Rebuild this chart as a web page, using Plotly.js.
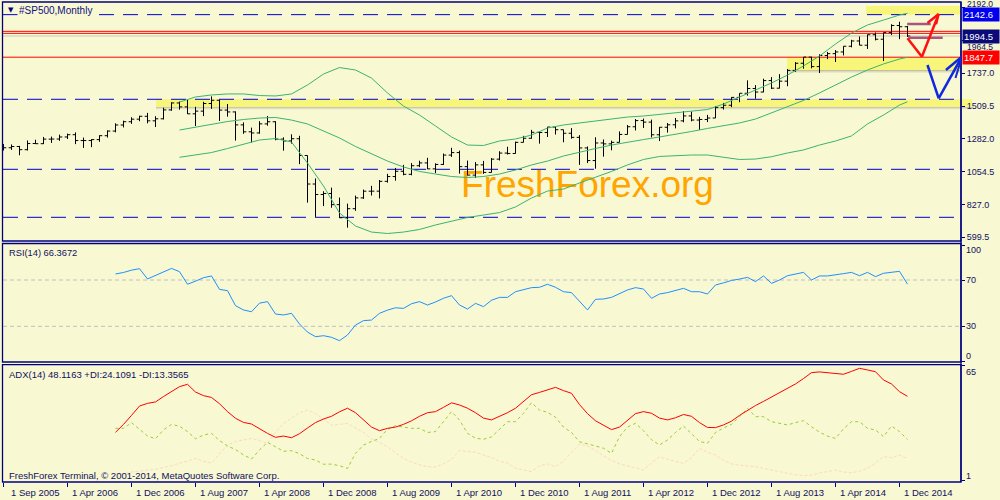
<!DOCTYPE html>
<html><head><meta charset="utf-8">
<script src="https://cdn.plot.ly/plotly-3.0.1.min.js"></script>
<style>html,body{margin:0;padding:0;background:#F8F8D3;}#chart{width:1000px;height:500px;}</style>
</head><body><div id="chart"></div>
<script>
// Monthly bars, index 0 = Aug 2005 ... 113 = Jan 2015
const opens = [1234.2,1220.3,1228.8,1207.0,1249.5,1248.3,1280.1,1280.7,1294.9,1310.6,
1270.1,1270.2,1276.7,1303.8,1335.9,1377.9,1400.6,1418.3,1438.2,1406.8,
1420.9,1482.4,1530.6,1503.4,1455.3,1474.0,1526.8,1549.4,1481.1,1468.4,
1378.6,1330.6,1322.7,1385.6,1400.4,1280.0,1267.4,1282.8,1166.4,968.8,
896.2,903.3,825.9,735.1,797.9,872.8,919.1,919.3,987.5,1020.6,
1057.1,1036.2,1095.6,1115.1,1073.9,1104.5,1169.4,1186.7,1089.4,1030.7,
1101.6,1049.3,1141.2,1183.3,1180.6,1257.6,1286.1,1327.2,1325.8,1363.6,
1345.2,1320.6,1292.3,1218.9,1131.4,1253.3,1247.0,1257.6,1312.4,1365.7,
1408.5,1397.9,1310.3,1362.2,1379.3,1406.6,1440.7,1412.2,1416.2,1426.2,
1498.1,1514.7,1569.2,1597.6,1630.7,1606.3,1685.7,1633.0,1681.6,1756.5,
1805.8,1848.4,1782.6,1859.5,1872.3,1884.0,1923.6,1960.2,1930.7,2003.4,
1972.3,2018.1,2067.6,2058.9];
const highs = [1245.9,1243.1,1233.3,1270.6,1275.8,1294.9,1297.6,1310.9,1318.2,1326.7,
1290.7,1280.4,1306.7,1340.3,1389.5,1407.9,1431.8,1441.6,1461.6,1438.9,
1498.0,1535.6,1540.6,1555.9,1503.9,1538.7,1576.1,1552.8,1523.6,1471.8,
1396.0,1359.7,1404.1,1440.2,1404.1,1292.2,1313.2,1303.0,1167.0,1007.5,
918.9,943.9,875.0,833.0,888.7,930.2,956.2,996.7,1039.5,1080.2,
1101.4,1113.7,1130.4,1150.5,1112.4,1180.2,1219.8,1200.0,1131.2,1121.0,
1129.2,1148.7,1196.1,1227.1,1262.6,1302.7,1344.1,1332.3,1364.6,1370.6,
1345.2,1356.5,1307.4,1229.3,1292.7,1277.6,1269.4,1333.5,1378.0,1419.2,
1422.4,1415.3,1363.5,1391.7,1426.7,1474.5,1471.0,1434.3,1448.0,1509.9,
1530.9,1570.3,1597.6,1687.2,1654.2,1698.8,1709.7,1729.9,1765.6,1813.6,
1849.4,1850.8,1867.9,1884.0,1897.3,1924.0,1968.2,1991.4,2005.0,2019.3,
2018.2,2075.8,2093.6,2064.4];
const lows = [1201.1,1205.4,1168.2,1201.1,1246.6,1245.7,1253.6,1268.4,1280.7,1245.3,
1219.3,1224.5,1261.3,1290.9,1327.1,1361.0,1385.9,1404.0,1389.4,1364.0,
1416.4,1476.7,1484.2,1454.3,1370.6,1439.3,1489.6,1406.1,1435.7,1270.1,
1316.8,1257.0,1318.0,1373.1,1272.0,1200.4,1248.7,1106.4,839.8,741.0,
815.7,804.2,734.5,666.8,783.3,866.1,888.9,869.3,978.5,992.0,
1029.4,1029.4,1085.9,1071.6,1044.5,1101.4,1157.0,1040.8,1028.3,1010.9,
1039.7,1048.1,1131.9,1173.0,1179.6,1257.6,1282.9,1249.0,1294.7,1311.8,
1258.1,1282.9,1101.5,1114.2,1074.8,1158.7,1202.4,1257.6,1312.4,1340.0,
1357.4,1292.0,1266.7,1325.4,1354.7,1396.6,1403.3,1343.4,1398.1,1426.2,
1485.0,1501.5,1536.0,1581.3,1560.3,1604.6,1627.5,1631.0,1646.5,1746.2,
1768.0,1770.5,1737.9,1834.4,1814.4,1859.8,1916.0,1930.7,1904.8,1964.0,
1820.7,2001.0,1972.6,1988.1];
const closes = [1220.3,1228.8,1207.0,1249.5,1248.3,1280.1,1280.7,1294.9,1310.6,1270.1,
1270.2,1276.7,1303.8,1335.9,1377.9,1400.6,1418.3,1438.2,1406.8,1420.9,
1482.4,1530.6,1503.4,1455.3,1474.0,1526.8,1549.4,1481.1,1468.4,1378.6,
1330.6,1322.7,1385.6,1400.4,1280.0,1267.4,1282.8,1166.4,968.8,896.2,
903.3,825.9,735.1,797.9,872.8,919.1,919.3,987.5,1020.6,1057.1,
1036.2,1095.6,1115.1,1073.9,1104.5,1169.4,1186.7,1089.4,1030.7,1101.6,
1049.3,1141.2,1183.3,1180.6,1257.6,1286.1,1327.2,1325.8,1363.6,1345.2,
1320.6,1292.3,1218.9,1131.4,1253.3,1247.0,1257.6,1312.4,1365.7,1408.5,
1397.9,1310.3,1362.2,1379.3,1406.6,1440.7,1412.2,1416.2,1426.2,1498.1,
1514.7,1569.2,1597.6,1630.7,1606.3,1685.7,1633.0,1681.6,1756.5,1805.8,
1848.4,1782.6,1859.5,1872.3,1884.0,1923.6,1960.2,1930.7,2003.4,1972.3,
2018.1,2067.6,2058.9,1994.5];

// Bollinger Bands (20)
const bbIdx = [22,24,26,28,30,32,34,36,38,40,42,44,46,48,50,52,54,56,58,60,62,64,66,68,70,72,74,76,78,80,82,84,86,88,90,92,94,96,98,100,102,104,106,108,110,112,113];
const bbUpper = [1537,1572,1586,1593,1593,1582,1579,1593,1655,1731,1776,1759,1703,1600,1509,1447,1371,1295,1239,1236,1267,1281,1308,1357,1378,1392,1405,1419,1433,1440,1450,1461,1471,1485,1523,1572,1620,1669,1724,1787,1856,1939,2015,2071,2105,2140,2152];
const bbMiddle = [1343,1364,1385,1402,1416,1426,1430,1412,1385,1336,1288,1229,1177,1128,1087,1056,1038,1021,1014,1021,1038,1066,1101,1128,1163,1191,1215,1239,1260,1277,1295,1312,1333,1354,1371,1392,1419,1461,1503,1548,1600,1655,1710,1759,1801,1835,1847];
const bbLower = [1154,1170,1187,1215,1243,1274,1284,1260,1114,955,768,678,636,626,636,654,685,713,737,754,771,810,872,920,934,976,1014,1056,1101,1139,1160,1166,1170,1170,1156,1139,1142,1158,1184,1205,1239,1267,1302,1385,1447,1516,1539];

// RSI(14), ADX(14), +DI, -DI from bar 14 to 113
const rsi = [75.2,76.5,78.5,79.8,70.9,74,77.5,80,77.2,66.3,
69,72,73.5,61.9,60.8,47.8,44.1,42.6,50,51.3,
40.6,39.8,41.2,32,25,21,21.9,20.5,17.6,22.5,
31.1,34.9,35.4,41.2,44,46,45.5,49.5,51.3,48.4,
51,54.2,56.5,48.4,44.9,49.8,47,52.5,55,55,
59.9,61.9,63.4,63.7,66.3,63.7,59.9,59.1,51.9,44.1,
53.3,53.6,55,58.5,61.4,63.4,62.2,54.2,57.9,59.1,
60.8,62.8,59.9,59.9,57.9,65.7,67.5,69.6,70.8,72.3,
68.6,73.5,67.1,70,73.7,75.2,76.6,70,73.5,73.5,
74.3,75.5,76.6,73.7,76.6,72.9,75.8,76.6,77.5,66.37];
const adx = [28.1,32.5,37.5,42.7,44.2,45,48,51,53.5,54.8,
50.5,48.5,47.5,44,39.6,35.9,33.6,32.7,30,27.5,
25.3,26,25.1,27.3,30.5,33.5,35.5,37,39.5,41.5,
39,35,31,29,30.3,31,32.5,34.5,37,39,
39.6,42,44.5,43.3,41.5,39,36,35,36.8,39,
41.5,45.1,49,50.3,51.8,53.1,51.3,49.8,43.5,38.5,
34.5,32.2,29.6,31,35,38.5,39.6,38.7,36,35,
36.2,38,37,33.5,30.8,30.7,32.2,34.3,37.5,40.5,
43,45.3,47.8,50,52.5,55,58,61.3,61.7,61.3,
60.6,60.4,62,63.7,62.8,61.8,57.2,55,50.7,48.12];
const plusDI = [30.3,30.3,33.5,29.5,26,24.5,29.4,32.5,31.5,28.5,
24.5,26.6,27.5,23.5,20.5,18.5,15.5,13.2,18.3,22.5,
20.1,17.5,17.9,16.2,13.5,12.7,10.3,10.4,9.5,8,
16.4,21,23,24.7,29.8,31.8,31,30.3,30.3,28,
28.5,34,39.6,34.9,27.5,24.8,24.2,25.5,30,34,
34,38.7,44.6,40.5,39.2,36.5,31,28,22.8,21.8,
20.5,19.2,16.4,25.7,31,33.1,29,24,21,23.8,
28,31.6,27,23,22,28,30.5,32.5,36.8,41.4,
36.8,36.8,34,33,32.2,33.5,34.6,31.2,28.2,26,
24.7,30,34,34,30.3,29.4,25.7,31.6,28.5,24.11];
const minusDI = [5,5,6,6.5,7,7.5,8.5,9.5,11,12,
13.6,12,11,16,21,23,23.8,24.7,23.5,22,
28,33.1,36,39,40.5,38.5,35.5,32,32.5,33.1,
30.5,28,24.5,22.5,20,16.5,13.5,11.5,10,9,
8.8,10.5,13,17.9,17.5,17,15.5,14,12,11,
8,7,6.2,9.5,10.5,9,12,17,21.6,20.5,
18,15,12.5,10.5,9.3,8,7.1,11,14.5,13,
11.8,10.8,14,19.2,17,15.5,12.5,10.5,9.8,9.3,
9,8,7,6,5.3,4.5,4,4.2,5.5,6.2,
7.1,6,5.5,6.5,8,11,14.5,14,15.5,13.36];

const xTickIdx = [0,8,16,24,32,40,48,56,64,72,80,88,96,104,112];
const xTickLabels = ['1 Sep 2005','1 Apr 2006','1 Dec 2006','1 Aug 2007','1 Apr 2008','1 Dec 2008','1 Aug 2009','1 Apr 2010','1 Dec 2010','1 Aug 2011','1 Apr 2012','1 Dec 2012','1 Aug 2013','1 Apr 2014','1 Dec 2014'];
const priceTicks = [599.5,827.0,1054.5,1282.0,1509.5,1737.0,1964.5,2192.0];
const priceTickLabels = ['599.5','827.0','1054.5','1282.0','1509.5','1737.0','',''];
// labels partly hidden behind the price boxes in the original, placed clear of them
const hiddenTickLabels = [['2192.0',3.8],['1964.5',46.5]];

// horizontal levels
const blueLevels = [2142.6,1556,1070.8,738.2];
const redLevels = [2027,2013,1847.7];
const bidPrice = 1994.5;

const BG = '#F8F8D3', NAVY = '#000080', TXT = '#101060';
const FONT = 'Liberation Sans, Arial, sans-serif';
const barIdx = opens.map((_, k) => k);
const indIdx = rsi.map((_, k) => 14 + k);

const data = [
  {type:'scatter', mode:'lines', x:bbIdx, y:bbUpper, line:{color:'#3CB371', width:1}, hoverinfo:'skip', xaxis:'x', yaxis:'y'},
  {type:'scatter', mode:'lines', x:bbIdx, y:bbMiddle, line:{color:'#3CB371', width:1}, hoverinfo:'skip', xaxis:'x', yaxis:'y'},
  {type:'scatter', mode:'lines', x:bbIdx, y:bbLower, line:{color:'#3CB371', width:1}, hoverinfo:'skip', xaxis:'x', yaxis:'y'},
  {type:'ohlc', x:barIdx, open:opens, high:highs, low:lows, close:closes, xaxis:'x', yaxis:'y',
   increasing:{line:{color:'#000000', width:1}}, decreasing:{line:{color:'#000000', width:1}}, tickwidth:0.35, hoverinfo:'skip'},
  {type:'scatter', mode:'lines', x:indIdx, y:rsi, line:{color:'#1E90FF', width:1}, hoverinfo:'skip', xaxis:'x', yaxis:'y2'},
  {type:'scatter', mode:'lines', x:indIdx, y:minusDI, line:{color:'#FFD8C0', width:1, dash:'3px,2px'}, hoverinfo:'skip', xaxis:'x', yaxis:'y3'},
  {type:'scatter', mode:'lines', x:indIdx, y:plusDI, line:{color:'#9ACD32', width:1, dash:'3px,3px'}, hoverinfo:'skip', xaxis:'x', yaxis:'y3'},
  {type:'scatter', mode:'lines', x:indIdx, y:adx, line:{color:'#FF0000', width:1}, hoverinfo:'skip', xaxis:'x', yaxis:'y3'}
];

// pixel helper for paper coords of plot area (x:3..961, y:3..482)
const px = p => (p - 3) / 958;
const py = p => (482 - p) / 479;

const shapes = [];
function band(x0, x1, yLo, yHi){
  shapes.push({type:'rect', layer:'below', xref:'paper', yref:'y', x0:x0, x1:x1, y0:yLo-5, y1:yLo, fillcolor:'rgba(80,80,60,0.38)', line:{width:0}});
  shapes.push({type:'rect', layer:'below', xref:'paper', yref:'y', x0:x0, x1:x1, y0:yLo-12, y1:yLo-5, fillcolor:'rgba(80,80,60,0.2)', line:{width:0}});
  shapes.push({type:'rect', layer:'below', xref:'paper', yref:'y', x0:x0, x1:x1, y0:yLo-20, y1:yLo-12, fillcolor:'rgba(80,80,60,0.08)', line:{width:0}});
  shapes.push({type:'rect', layer:'below', xref:'paper', yref:'y', x0:x0, x1:x1, y0:yLo, y1:yHi, fillcolor:'#F8F67A', line:{width:0}});
}
shapes.push({type:'rect', layer:'below', xref:'paper', yref:'y', x0:px(866), x1:1, y0:2142.6, y1:2202, fillcolor:'#F8F67A', line:{width:0}});
band(px(787), 1.0, 1759, 1847.7);
band(px(156), px(972), 1504.7, 1556);

blueLevels.forEach(v => shapes.push({type:'line', layer:'below', xref:'paper', yref:'y', x0:0, x1:1, y0:v, y1:v, line:{color:'#0000CD', width:1, dash:'15px,9px'}}));
shapes.push({type:'line', layer:'below', xref:'paper', yref:'y', x0:0, x1:1, y0:bidPrice, y1:bidPrice, line:{color:'#C8C8C0', width:1}});
redLevels.forEach(v => shapes.push({type:'line', layer:'below', xref:'paper', yref:'y', x0:0, x1:1, y0:v, y1:v, line:{color:'#FF0000', width:1}}));
[70,30].forEach(v => shapes.push({type:'line', layer:'below', xref:'paper', yref:'y2', x0:0, x1:1, y0:v, y1:v, line:{color:'#C0C0C0', width:1, dash:'4px,3px'}}));

// watermark
shapes.push({type:'rect', layer:'below', xref:'paper', yref:'paper', x0:px(460), x1:px(715), y0:py(200), y1:py(160),
  line:{width:0}, fillcolor:'rgba(0,0,0,0)',
  label:{text:'FreshForex.org', textposition:'middle center', font:{family:FONT, size:37, color:'#FFA500'}}});

// panel borders
const panels = [[2,241],[243.5,362],[364.7,482]];
panels.forEach(p => shapes.push({type:'rect', layer:'above', xref:'paper', yref:'paper', x0:px(2.5), x1:1, y0:py(p[1]), y1:py(p[0]), line:{color:NAVY, width:1.3}, fillcolor:'rgba(0,0,0,0)'}));
shapes.push({type:'line', layer:'above', xref:'paper', yref:'paper', x0:1, x1:1, y0:0, y1:py(2), line:{color:NAVY, width:1.3}});

// hand drawn marks (bar index, price)
const seg = (a, b, c, w) => shapes.push({type:'line', layer:'above', xref:'x', yref:'y', x0:a[0], y0:a[1], x1:b[0], y1:b[1], line:{color:c, width:w}});
const PUR = '#A8557F', RED = '#FF1010', BLU = '#1028E0';
seg([112.96,2077.8],[115.9,2077.8],PUR,2.5);
seg([113.1,1982.8],[117.4,1982.8],PUR,2.5);
seg([113,1978.7],[114.8,1851.2],RED,2.5);
seg([114.8,1851.2],[116.9,2147.1],RED,2.5);
seg([116.9,2147.1],[115.5,2085],RED,2.5);
seg([116.9,2147.1],[116.6,2075],RED,2);
seg([115.5,1793.6],[116.9,1562.9],BLU,2.5);
seg([116.9,1562.9],[119.8,1851.2],BLU,2.5);
seg([119.8,1851.2],[117.8,1759],BLU,2.5);
seg([119.8,1851.2],[119.0,1703.5],BLU,2);

const annotations = [];
const txt = (x, y, text, size, opts) => annotations.push(Object.assign({xref:'paper', yref:'paper', x:x, y:y, text:text, showarrow:false, xanchor:'left', yanchor:'middle', font:{family:FONT, size:size, color:TXT}}, opts||{}));
txt(px(5.5), py(10.5), '▼', 7, {font:{family:'DejaVu Sans', size:7, color:NAVY}});
txt(px(16.5), py(10.5), '#SP500,Monthly', 10, {bgcolor:BG, borderpad:1, font:{family:FONT, size:10, color:'#101080'}});
txt(px(7), py(252.7), 'RSI(14) 66.3672', 9.3);
txt(px(7), py(374), 'ADX(14) 48.1163 +DI:24.1091 -DI:13.3565', 9.5);
txt(px(7), py(475), 'FreshForex Terminal, © 2001-2014, MetaQuotes Software Corp.', 9.5);
// indicator scale labels
[['100',250],['70',280],['30',326],['0',356],['65',372],['1',476]].forEach(l => txt(1, py(l[1]), l[0], 9, {xshift:3}));
hiddenTickLabels.forEach(l => txt(1, py(l[1]), l[0], 8.5, {xshift:4}));
// price boxes
[[2142.6,'#0000EE'],[1994.5,'#0A0A78'],[1847.7,'#FF0000']].forEach(b => annotations.push({xref:'paper', yref:'y', x:1, y:b[0], xanchor:'left', yanchor:'middle', xshift:1, text:b[0].toFixed(1), showarrow:false, bgcolor:b[1], borderpad:1, width:34, align:'left', font:{family:FONT, size:9.5, color:'#FFFFFF'}}));
// time labels
xTickIdx.forEach((t, k) => annotations.push({xref:'x', yref:'paper', x:t, y:py(492.5), xanchor:'left', yanchor:'middle', xshift:k===0?5:2, text:xTickLabels[k], showarrow:false, font:{family:FONT, size:9.5, color:TXT}}));

const layout = {
  width:1000, height:500,
  margin:{l:3, r:39, t:3, b:18, pad:0},
  paper_bgcolor:BG, plot_bgcolor:'rgba(0,0,0,0)',
  showlegend:false,
  font:{family:FONT, size:9, color:TXT},
  xaxis:{domain:[0,1], anchor:'y3', range:[-0.0625,119.6875], showgrid:false, zeroline:false, showline:false,
    tickmode:'array', tickvals:xTickIdx, ticks:'outside', ticklen:4, tickcolor:NAVY, showticklabels:false, rangeslider:{visible:false}, fixedrange:true},
  yaxis:{domain:[py(241),1], range:[574,2223.3], side:'right', anchor:'x', showgrid:false, zeroline:false, showline:false,
    tickmode:'array', tickvals:priceTicks, ticktext:priceTickLabels, ticks:'outside', ticklen:3, tickcolor:NAVY, tickfont:{family:FONT, size:9, color:TXT}},
  yaxis2:{domain:[py(362),py(244)], range:[-0.84,101.1], side:'right', anchor:'x', showgrid:false, zeroline:false, showline:false,
    tickmode:'array', tickvals:[0,30,70,100], ticks:'outside', ticklen:3, tickcolor:NAVY, showticklabels:false},
  yaxis3:{domain:[0,py(365)], range:[0.44,65.55], side:'right', anchor:'x', showgrid:false, zeroline:false, showline:false,
    tickmode:'array', tickvals:[1,65], ticks:'outside', ticklen:3, tickcolor:NAVY, showticklabels:false},
  shapes:shapes,
  annotations:annotations
};

Plotly.newPlot('chart', data, layout, {staticPlot:true, displayModeBar:false});
</script>
</body></html>
